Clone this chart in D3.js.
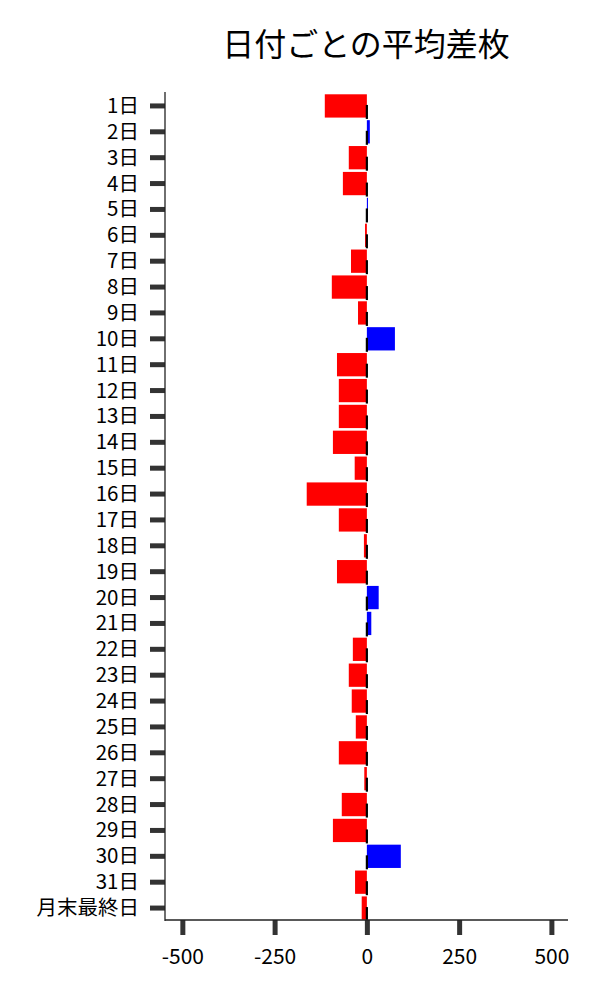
<!DOCTYPE html>
<html><head><meta charset="utf-8">
<script src="https://cdn.jsdelivr.net/npm/d3@7"></script>
<style>body{margin:0;background:#fff}svg{display:block}text{font-family:"Noto Sans CJK JP","Noto Sans",sans-serif;fill:#000}</style>
</head><body>
<svg id="c" width="600" height="1000"></svg>
<script>
const categories = ["1日","2日","3日","4日","5日","6日","7日","8日","9日","10日","11日","12日","13日","14日","15日","16日","17日","18日","19日","20日","21日","22日","23日","24日","25日","26日","27日","28日","29日","30日","31日","月末最終日"];
const values = [-114,8,-49,-65,3,-5,-43,-95,-24,76,-81,-76,-76,-92,-33,-163,-76,-8,-81,32,12,-38,-49,-41,-30,-76,-7,-68,-92,92,-32,-14];
const xTicks = [-500,-250,0,250,500];
const title = "日付ごとの平均差枚";

const svg = d3.select("#c");
const L = 165, R = 568, T = 93, B = 921;
const x = d3.scaleLinear().domain([-547, 545]).range([L, R]);
const y = d3.scaleBand().domain(categories).range([T, B]).paddingInner(0.1).paddingOuter(0.05);
const FF = '"Noto Sans CJK JP","Noto Sans",sans-serif';

svg.append("text").attr("x", 366).attr("y", 56).attr("text-anchor", "middle")
  .attr("font-size", 32).style("font-family", FF).text(title);

svg.append("g").selectAll("rect").data(values).join("rect")
  .attr("x", d => x(Math.min(0, d)))
  .attr("width", d => Math.abs(x(d) - x(0)))
  .attr("y", (d, i) => y(categories[i]))
  .attr("height", y.bandwidth())
  .attr("fill", d => d < 0 ? "#ff0000" : "#0000ff");

// small black marks at zero
svg.append("g").selectAll("line").data(values).join("line")
  .attr("x1", x(0)).attr("x2", x(0))
  .attr("y1", (d, i) => y(categories[i]) + y.bandwidth() / 2 - 1)
  .attr("y2", (d, i) => y(categories[i]) + y.bandwidth() / 2 + 13)
  .attr("stroke", "#000").attr("stroke-width", 2.2);

// y axis
const ya = svg.append("g").attr("transform", `translate(${L},0)`)
  .call(d3.axisLeft(y).tickSize(15).tickPadding(11));
ya.select(".domain").remove();
ya.selectAll(".tick line").attr("stroke", "#333").attr("stroke-width", 5);
ya.selectAll(".tick text").attr("font-size", 20.5).attr("dy", "0.34em").style("font-family", FF).attr("fill", "#000");

// x axis
const xa = svg.append("g").attr("transform", `translate(0,${B - 1})`)
  .call(d3.axisBottom(x).tickValues(xTicks).tickFormat(d => String(d)).tickSize(15).tickPadding(14));
xa.select(".domain").remove();
xa.selectAll(".tick line").attr("stroke", "#333").attr("stroke-width", 5);
xa.selectAll(".tick text").attr("font-size", 21).style("font-family", FF).attr("fill", "#000");

// spines
svg.append("line").attr("x1", L).attr("x2", L).attr("y1", T - 1).attr("y2", B).attr("stroke", "#222").attr("stroke-width", 1.3);
svg.append("line").attr("x1", L).attr("x2", R).attr("y1", B - 1).attr("y2", B - 1).attr("stroke", "#222").attr("stroke-width", 1.3);
</script>
</body></html>
